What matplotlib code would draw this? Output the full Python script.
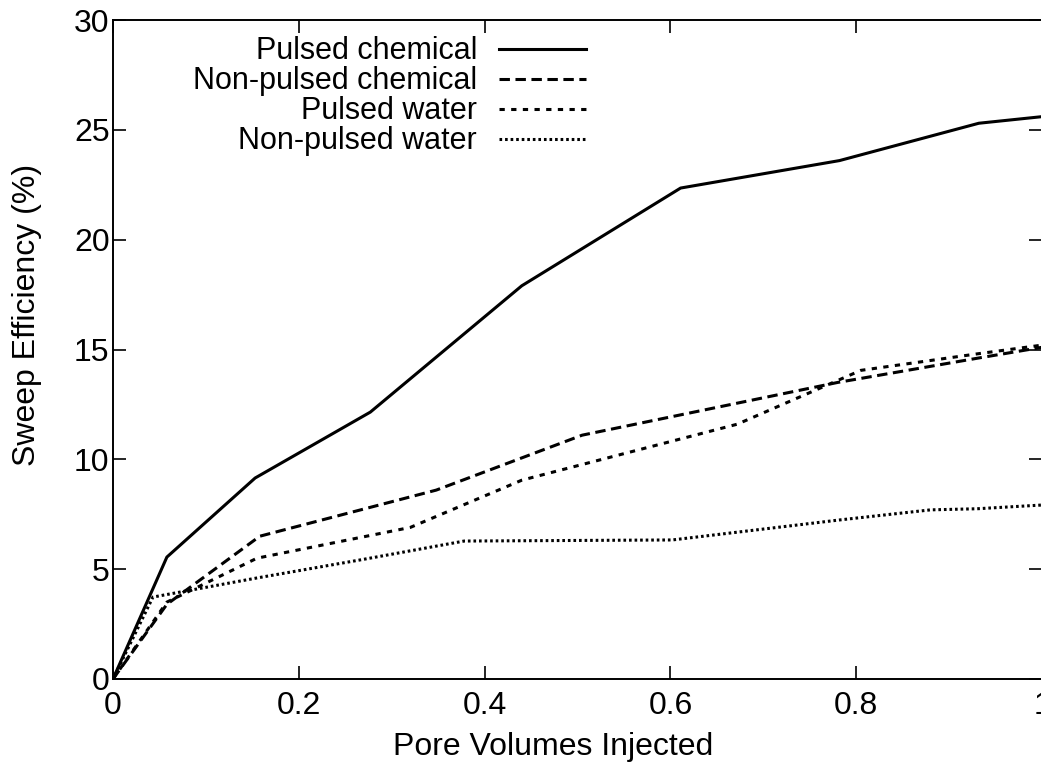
import matplotlib
matplotlib.use("Agg")
import matplotlib.pyplot as plt

plt.rcParams['font.family'] = ['Liberation Sans', 'DejaVu Sans']
plt.rcParams['lines.scale_dashes'] = False

# Pore volumes injected vs. sweep efficiency for each flooding scheme
pv_pulsed_chem = [0.0, 0.058, 0.153, 0.277, 0.440, 0.611, 0.782, 0.932, 1.0]
se_pulsed_chem = [0.0, 5.55, 9.15, 12.15, 17.9, 22.35, 23.6, 25.3, 25.6]

pv_nonpulsed_chem = [0.0, 0.058, 0.158, 0.348, 0.505, 0.780, 0.930, 1.0]
se_nonpulsed_chem = [0.0, 3.4, 6.5, 8.6, 11.1, 13.5, 14.6, 15.1]

pv_pulsed_water = [0.0, 0.058, 0.155, 0.320, 0.440, 0.672, 0.805, 0.930, 1.0]
se_pulsed_water = [0.0, 3.5, 5.5, 6.9, 9.05, 11.6, 14.05, 14.8, 15.2]

pv_nonpulsed_water = [0.0, 0.043, 0.155, 0.270, 0.378, 0.602, 0.782, 0.880, 0.930, 1.0]
se_nonpulsed_water = [0.0, 3.73, 4.6, 5.45, 6.28, 6.33, 7.24, 7.7, 7.75, 7.92]

labels = ["Pulsed chemical", "Non-pulsed chemical", "Pulsed water", "Non-pulsed water"]

x_ticks = [0, 0.2, 0.4, 0.6, 0.8, 1]
x_tick_labels = ["0", "0.2", "0.4", "0.6", "0.8", "1"]
y_ticks = [0, 5, 10, 15, 20, 25, 30]

fig = plt.figure(figsize=(10.41, 7.75), dpi=100)
ax = fig.add_axes([113 / 1041, 96 / 775, 929 / 1041, 659 / 775])

lw = 2.2
ax.plot(pv_pulsed_chem, se_pulsed_chem, color="black", lw=lw, ls="-", label=labels[0])
ax.plot(pv_nonpulsed_chem, se_nonpulsed_chem, color="black", lw=lw,
        ls=(0, (7.5, 4.0)), label=labels[1])
ax.plot(pv_pulsed_water, se_pulsed_water, color="black", lw=lw,
        ls=(0, (3.8, 4.6)), label=labels[2])
ax.plot(pv_nonpulsed_water, se_nonpulsed_water, color="black", lw=lw,
        ls=(0, (1.9, 2.1)), label=labels[3])

ax.set_xlim(0, 1)
ax.set_ylim(0, 30)
ax.set_xticks(x_ticks)
ax.set_xticklabels(x_tick_labels)
ax.set_yticks(y_ticks)

fs = 23
ax.tick_params(direction="in", length=9.5, width=1.2, top=True, right=True,
               labelsize=fs, pad=2.5, colors="black")
ax.tick_params(axis="x", pad=9)
for s in ax.spines.values():
    s.set_linewidth(1.4)

ax.set_xlabel("Pore Volumes Injected", fontsize=fs)
ax.set_ylabel("Sweep Efficiency (%)", fontsize=fs)
ax.xaxis.set_label_coords(0.474, -0.08)
ax.yaxis.set_label_coords(-0.076, 0.553)

ax.legend(loc="upper right", bbox_to_anchor=(0.509, 0.975), frameon=False,
          markerfirst=False, fontsize=22, handlelength=2.84, handletextpad=0.72,
          labelspacing=0.0, borderpad=0, borderaxespad=0)

fig.savefig("out.png", dpi=100)
